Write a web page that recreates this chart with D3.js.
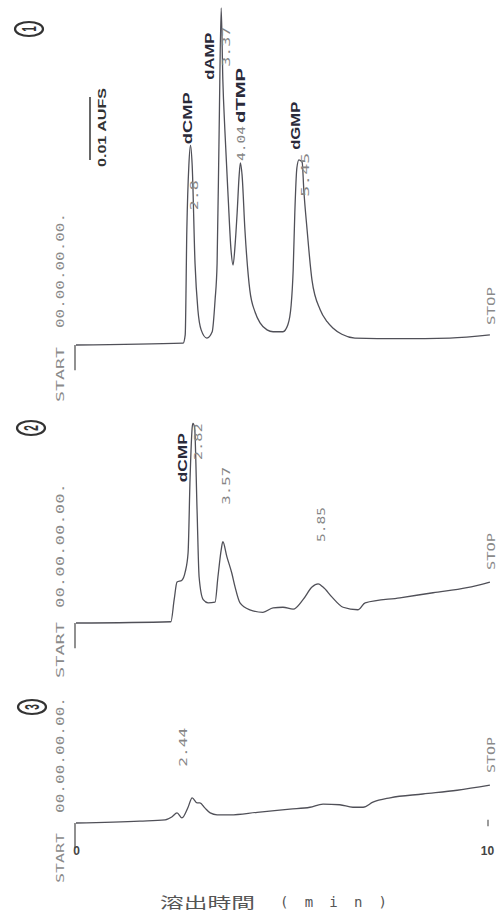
<!DOCTYPE html>
<html><head><meta charset="utf-8">
<script src="https://cdn.jsdelivr.net/npm/d3@7"></script>
<style>body{margin:0;background:#fff}</style>
</head><body>
<svg id="c" width="500" height="916"></svg>
<script>
// ---------- data (time in min, signal in mAU) ----------
const trace1Time   = [0,2.62,2.67,2.71,2.76,2.80,2.84,2.91,2.98,3.06,3.20,3.33,3.40,3.45,3.50,3.55,3.59,3.64,3.72,3.79,3.84,3.89,3.94,3.99,4.02,4.06,4.13,4.25,4.38,4.50,4.67,4.82,5.06,5.18,5.26,5.31,5.35,5.40,5.45,5.53,5.57,5.65,5.77,5.97,6.14,6.28,6.50,6.82,7.92,9.14,10.12];
const trace1Signal = [0,0.3,1.6,18.3,28.6,31.7,28.6,13.0,5.6,2.4,1.1,2.1,7.1,13.0,34.1,53.5,42.1,34.1,23.5,15.1,12.7,15.9,21.0,27.0,28.9,27.0,18.3,8.7,5.2,3.5,2.4,2.1,2.1,3.2,6.3,11.9,21.0,28.1,29.4,29.0,24.6,18.3,10.3,5.6,3.7,2.7,1.7,1.1,1.0,1.1,1.6];

const trace2Time   = [0,2.32,2.40,2.47,2.59,2.67,2.74,2.79,2.84,2.86,2.90,2.96,3.01,3.11,3.23,3.40,3.47,3.55,3.59,3.69,3.81,3.89,4.01,4.25,4.57,4.82,5.06,5.31,5.55,5.77,5.92,6.04,6.26,6.53,6.89,7.07,7.92,8.73,9.56,10.12];
const trace2Signal = [0,0.2,3.7,6.5,6.8,8.1,11.1,23.2,31.0,31.7,31.0,17.9,7.3,3.7,3.2,3.3,7.3,11.6,12.9,10.5,7.9,5.7,3.2,2.1,1.7,2.4,2.5,2.2,3.7,5.7,6.2,5.7,4.1,2.5,2.1,3.2,4.0,4.8,5.6,6.5];

const trace3Time   = [0,1.56,2.18,2.35,2.47,2.59,2.74,2.84,2.96,3.03,3.15,3.28,3.45,3.77,4.43,5.23,5.72,6.04,6.45,6.77,7.02,7.26,7.68,8.48,9.32,10.12];
const trace3Signal = [0,0.3,0.5,1.0,1.6,0.8,2.5,4.0,3.2,3.2,2.4,1.6,1.3,1.3,1.7,2.2,2.5,3.0,2.9,2.5,2.5,3.3,4.0,4.6,5.2,6.0];

// peak annotations: compound name, printed retention time, peak time, peak height
const peakNames1 = ["dCMP","dAMP","dTMP","dGMP"];
const peakRT1    = ["2.8","3.37","4.04","5.45"];
const peakTime1  = [2.80,3.55,4.02,5.45];
const peakHeight1= [31.7,52.9,28.9,29.4];

const peakNames2 = ["dCMP","",""];
const peakRT2    = ["2.82","3.57","5.85"];
const peakTime2  = [2.86,3.59,5.92];
const peakHeight2= [31.7,12.9,6.2];

const peakNames3 = [""];
const peakRT3    = ["2.44"];
const peakTime3  = [2.84];
const peakHeight3= [4.0];

const panelIds   = ["1","2","3"];
const xTickValues= [0,10];
const xTickLabels= ["0","10"];
const scaleBarValue = 10;          // mAU  (0.01 AUFS)
const scaleBarLabel = "0.01 AUFS";
const startText  = "START";
const clockText  = "00.00.00.00.";
const stopText   = "STOP";
const axisTitleCJK = "溶出時間";
const axisTitleUnit = "( m i n )";

// ---------- layout ----------
const svg = d3.select("#c");
const x = d3.scaleLinear().domain([0,10]).range([76,485]);
const pxPerMAU = 6.3;
const baselines = [345, 623, 823];
const yScales = baselines.map(b => d3.scaleLinear().domain([0,10]).range([b, b - 10*pxPerMAU]));

const traces = [
  {t:trace1Time, v:trace1Signal},
  {t:trace2Time, v:trace2Signal},
  {t:trace3Time, v:trace3Signal}
];
const peaks = [
  {n:peakNames1, rt:peakRT1, t:peakTime1, h:peakHeight1},
  {n:peakNames2, rt:peakRT2, t:peakTime2, h:peakHeight2},
  {n:peakNames3, rt:peakRT3, t:peakTime3, h:peakHeight3}
];

// label offsets relative to the peak apex (px): [dx, dy, length]
const nameLayout = [
  [[-2.5,-1,52],[-11,68,47],[0.6,-40,55],[-3,-10,48]],
  [[-10,59,49]],
  []
];
const rtLayout = [
  [[3.5,65,30],[5,55,40],[0.6,-2,35],[7,37,44]],
  [[6,37,37],[4,-37,38],[3,-42,35]],
  [[-9,-31,39]]
];

const MONO = "'DejaVu Sans Mono', 'Liberation Mono', monospace";
const SANS = "'Liberation Sans', Arial, sans-serif";

function vtext(cx, yStart, str, len, opt) {
  const t = svg.append("text")
    .attr("transform", `translate(${cx},${yStart}) rotate(-90)`)
    .attr("dy", "0.35em")
    .attr("text-anchor", "start")
    .attr("font-family", opt.family)
    .attr("font-size", opt.size)
    .attr("font-weight", opt.weight || "normal")
    .attr("fill", opt.fill)
    .text(str);
  if (len) t.attr("textLength", len).attr("lengthAdjust", "spacingAndGlyphs");
  return t;
}

const line = d3.line().curve(d3.curveMonotoneX);
const bold = {family: SANS, size: 12, weight: "bold", fill: "#2a2a3a"};
const thin = {family: MONO, size: 10, fill: "#858585"};

traces.forEach((tr, i) => {
  const y = yScales[i];
  // start step marker
  svg.append("path")
    .attr("d", d3.line()([[x(0)-1, y(-4)], [x(0)-1, y(0)]]))
    .attr("fill","none").attr("stroke","#555").attr("stroke-width",1.3);
  const pts = tr.t.map((t,k) => [x(t), y(tr.v[k])]);
  svg.append("path")
    .attr("d", line(pts))
    .attr("fill","none").attr("stroke","#505058").attr("stroke-width",1.3)
    .attr("stroke-linejoin","round");

  // peak labels
  const p = peaks[i];
  p.t.forEach((pt, k) => {
    const ax = x(pt), ay = y(p.h[k]);
    if (p.n[k]) {
      const L = nameLayout[i][k];
      vtext(ax + L[0], ay + L[1], p.n[k], L[2], bold);
    }
    const R = rtLayout[i][k];
    vtext(ax + R[0], ay + R[1], p.rt[k], R[2], thin);
  });
});

// START / clock / STOP texts
const startLayout = [[60,402,55,328,115],[60,678,56,608,125],[60,883,50,813,116]];
const stopLayout  = [[491,325,38],[491,570,37],[491,773,36]];
baselines.forEach((b,i) => {
  const s = startLayout[i];
  vtext(s[0], s[1], startText, s[2], {family: MONO, size: 11, fill: "#8a8a8a"});
  vtext(s[0], s[3], clockText, s[4], {family: MONO, size: 11, fill: "#8a8a8a"});
  const st = stopLayout[i];
  vtext(st[0], st[1], stopText, st[2], {family: MONO, size: 10, fill: "#8a8a8a"});
});

// end tick on bottom panel
svg.append("path")
  .attr("d", d3.line()([[x(10)+3, yScales[2](0.5)], [x(10)+3, yScales[2](-0.5)]]))
  .attr("stroke","#666").attr("stroke-width",1.3);

// circled panel numbers
const circleCenters = [[29,29],[31,428],[32,707]];
panelIds.forEach((id,i) => {
  const c = circleCenters[i];
  svg.append("ellipse").attr("cx",c[0]).attr("cy",c[1]).attr("rx",14).attr("ry",7)
    .attr("fill","none").attr("stroke","#333").attr("stroke-width",2.2);
  svg.append("text")
    .attr("transform", `translate(${c[0]},${c[1]}) scale(2,1) rotate(-90)`)
    .attr("text-anchor","middle").attr("dy","0.36em")
    .attr("font-family", SANS).attr("font-weight","bold").attr("font-size",10)
    .attr("fill","#333").text(id);
});

// scale bar
const sbY = d3.scaleLinear().domain([0, scaleBarValue]).range([160, 160 - scaleBarValue*pxPerMAU]);
svg.append("path")
  .attr("d", d3.line()([[90, sbY(0)], [90, sbY(scaleBarValue)]]))
  .attr("stroke","#333").attr("stroke-width",1.5);
vtext(102, 167, scaleBarLabel, 79, {family: SANS, size: 11, weight: "bold", fill: "#333"});

// x axis tick labels
const xAxis = d3.axisBottom(x).tickValues(xTickValues).tickFormat((d,i) => xTickLabels[i]).tickSize(0);
const gx = svg.append("g").attr("transform","translate(0,843)").call(xAxis);
gx.select(".domain").remove();
gx.selectAll("text").attr("font-family", SANS).attr("font-weight","bold").attr("font-size",12)
  .attr("fill","#444").attr("dy","0.71em");
gx.selectAll(".tick").filter(d => d === 10).select("text").attr("dx", 2);

// axis title
svg.append("text").attr("x",160).attr("y",908)
  .attr("font-family","'Noto Sans CJK JP', 'Noto Sans CJK SC', sans-serif")
  .attr("font-size",15).attr("fill","#555")
  .attr("textLength",95).attr("lengthAdjust","spacingAndGlyphs")
  .text(axisTitleCJK);
svg.append("text").attr("x",280).attr("y",907)
  .attr("font-family", MONO).attr("font-size",14).attr("fill","#555")
  .attr("textLength",107).attr("lengthAdjust","spacing")
  .text(axisTitleUnit);
</script>
</body></html>
